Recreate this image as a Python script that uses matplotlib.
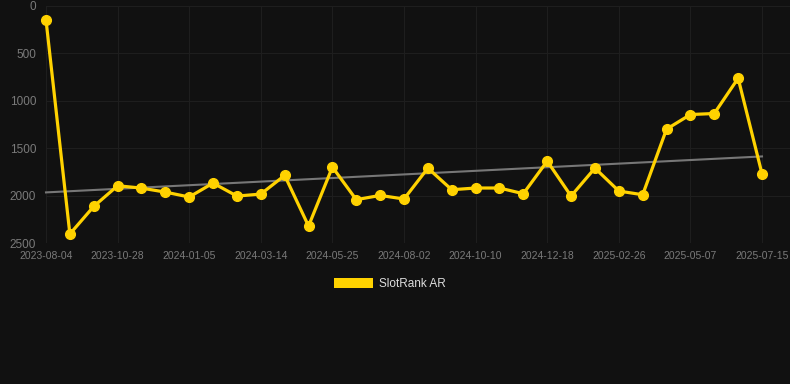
import numpy as np
import matplotlib
matplotlib.use("Agg")
import matplotlib.pyplot as plt
from matplotlib.patches import Patch

plt.rcParams['font.family'] = ['Liberation Sans', 'DejaVu Sans']

# rank per snapshot (lower = better)
ranks = [147, 2405, 2114, 1896, 1921, 1963, 2015, 1868, 2005, 1984,
         1787, 2321, 1699, 2043, 1998, 2036, 1710, 1938, 1920, 1920,
         1980, 1636, 2005, 1710, 1952, 1991, 1299, 1145, 1134, 762, 1770]
tick_labels = ['2023-08-04', '2023-10-28', '2024-01-05', '2024-03-14', '2024-05-25',
               '2024-08-02', '2024-10-10', '2024-12-18', '2025-02-26', '2025-05-07',
               '2025-07-15']
series_name = 'SlotRank AR'

bg = '#111111'
gold = '#FFD200'

fig = plt.figure(figsize=(7.9, 3.84), dpi=100, facecolor=bg)
ax = fig.add_axes([46/790, 1 - 243/384, 744/790, 237/384])
ax.set_facecolor(bg)

x = np.arange(len(ranks))
# trend line (linear fit)
k, b = np.polyfit(x, ranks, 1)
ax.plot(x, k*x + b, color='#777777', lw=1.5, zorder=2, clip_on=False)

ax.plot(x, ranks, color=gold, lw=2.3, marker='o', ms=7, zorder=3, clip_on=False)

ax.set_ylim(2500, 0)
ax.set_xlim(0, 30 + 28/23.87)
ax.set_yticks([0, 500, 1000, 1500, 2000, 2500])
ax.set_xticks(x[::3])
ax.set_xticklabels(tick_labels)
ax.tick_params(axis='y', colors='#7a7a7a', labelsize=8.5, length=0, pad=7)
ax.tick_params(axis='x', colors='#7a7a7a', labelsize=7.5, length=0, pad=6)
ax.grid(True, color='#1e1e1e', lw=0.8)
for s in ax.spines.values():
    s.set_visible(False)

fig.legend(handles=[Patch(facecolor=gold, label=series_name)],
           loc='center', bbox_to_anchor=(390/790, 1 - 284/384),
           frameon=False, labelcolor='#dddddd', fontsize=8.5,
           handlelength=3.3, handleheight=0.95, handletextpad=0.5)

fig.savefig('out.png', facecolor=bg)
